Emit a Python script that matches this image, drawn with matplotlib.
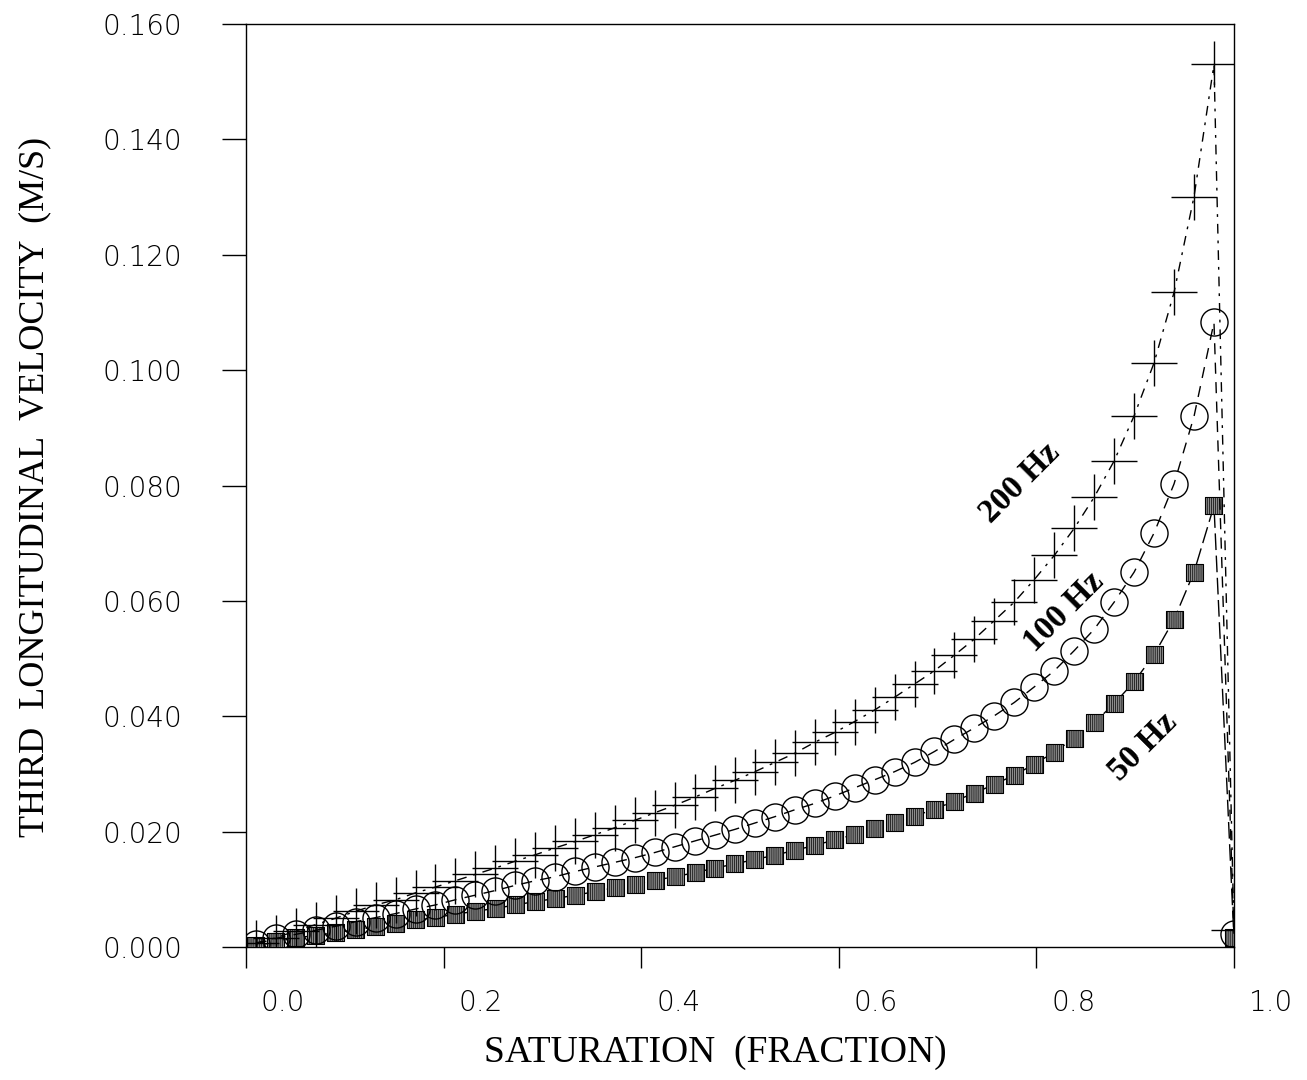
import matplotlib
matplotlib.use('Agg')
import matplotlib.pyplot as plt
import matplotlib.transforms as mtransforms

plt.rcParams['hatch.linewidth'] = 0.5

# saturation grid (50 points, last one at full saturation)
saturation = [0.0100, 0.0302, 0.0504, 0.0706, 0.0908, 0.1110, 0.1312, 0.1514, 0.1716, 0.1918,
              0.2120, 0.2322, 0.2524, 0.2727, 0.2929, 0.3131, 0.3333, 0.3535, 0.3737, 0.3939,
              0.4141, 0.4343, 0.4545, 0.4747, 0.4949, 0.5151, 0.5353, 0.5555, 0.5757, 0.5959,
              0.6161, 0.6363, 0.6565, 0.6767, 0.6969, 0.7171, 0.7373, 0.7575, 0.7777, 0.7979,
              0.8182, 0.8384, 0.8586, 0.8788, 0.8990, 0.9192, 0.9394, 0.9596, 0.9798, 1.0000]

v200 = [0.0007, 0.0016, 0.0028, 0.0039, 0.0050, 0.0062, 0.0073, 0.0082, 0.0094, 0.0104,
        0.0115, 0.0126, 0.0137, 0.0149, 0.0160, 0.0172, 0.0183, 0.0195, 0.0207, 0.0220,
        0.0233, 0.0246, 0.0260, 0.0275, 0.0289, 0.0304, 0.0320, 0.0336, 0.0355, 0.0372,
        0.0391, 0.0411, 0.0433, 0.0456, 0.0479, 0.0506, 0.0534, 0.0566, 0.0598, 0.0637,
        0.0679, 0.0726, 0.0780, 0.0843, 0.0921, 0.1013, 0.1135, 0.1301, 0.1530, 0.0030]

v100 = [0.0005, 0.0015, 0.0022, 0.0029, 0.0036, 0.0044, 0.0051, 0.0058, 0.0066, 0.0073,
        0.0082, 0.0090, 0.0098, 0.0107, 0.0115, 0.0122, 0.0131, 0.0139, 0.0147, 0.0155,
        0.0164, 0.0174, 0.0184, 0.0194, 0.0204, 0.0215, 0.0226, 0.0238, 0.0249, 0.0262,
        0.0276, 0.0290, 0.0304, 0.0320, 0.0339, 0.0360, 0.0380, 0.0401, 0.0424, 0.0451,
        0.0479, 0.0514, 0.0551, 0.0598, 0.0650, 0.0718, 0.0803, 0.0920, 0.1083, 0.0023]

v50 = [0.0002, 0.0009, 0.0016, 0.0020, 0.0025, 0.0030, 0.0035, 0.0041, 0.0047, 0.0051,
       0.0057, 0.0062, 0.0067, 0.0073, 0.0079, 0.0084, 0.0090, 0.0096, 0.0103, 0.0109,
       0.0116, 0.0122, 0.0129, 0.0137, 0.0144, 0.0152, 0.0159, 0.0168, 0.0176, 0.0186,
       0.0195, 0.0205, 0.0216, 0.0227, 0.0239, 0.0253, 0.0267, 0.0282, 0.0298, 0.0317,
       0.0338, 0.0362, 0.0389, 0.0422, 0.0460, 0.0507, 0.0568, 0.0650, 0.0765, 0.0016]

xticks = [0.0, 0.2, 0.4, 0.6, 0.8, 1.0]
xticklabels = ['0.0', '0.2', '0.4', '0.6', '0.8', '1.0']
yticks = [0.0, 0.02, 0.04, 0.06, 0.08, 0.10, 0.12, 0.14, 0.16]

fig = plt.figure(figsize=(13.07, 10.8), dpi=100)
ax = fig.add_axes([0.1882, 0.1231, 0.7559, 0.8546])

# 50 Hz - hatched grey squares
ax.plot(saturation, v50, color='black', lw=1.0, linestyle=(0, (12, 4)), zorder=2)
ax.scatter(saturation, v50, marker='s', s=150, facecolor='#8c8c8c', edgecolor='black',
           linewidth=0.8, hatch='||||||||', zorder=3)

# 100 Hz - open circles
ax.plot(saturation, v100, color='black', lw=1.0, linestyle=(0, (8, 6)),
        marker='o', markersize=19.5, markerfacecolor='none', markeredgecolor='black',
        markeredgewidth=1.0, zorder=4)

# 200 Hz - plus markers
ax.plot(saturation, v200, color='black', lw=1.0, linestyle=(0, (7, 5, 2, 5)),
        marker='+', markersize=33, markeredgewidth=1.0, zorder=5)

ax.set_xlim(0.0, 1.0)
ax.set_ylim(0.0, 0.16)

for s in ax.spines.values():
    s.set_linewidth(1.0)

ax.set_yticks(yticks)
ax.set_yticklabels(['%.3f' % v for v in yticks])
ax.tick_params(axis='y', direction='out', length=17, width=1.0, pad=29, labelsize=20)
ax.set_xticks(xticks)
ax.set_xticklabels([])
ax.tick_params(axis='x', direction='out', length=15, width=1.0)
for lab in ax.get_yticklabels():
    lab.set_fontweight('light')

# x tick labels sit to the right of their tick marks in the original
offset = mtransforms.ScaledTranslation(0.37, -0.56, fig.dpi_scale_trans)
for v, lbl in zip(xticks, xticklabels):
    ax.text(v, 0, lbl, transform=ax.get_xaxis_transform() + offset,
            ha='center', va='center', fontsize=20, fontweight='light')

fig.text(715 / 1307, 1 - 1053 / 1080, 'SATURATION  (FRACTION)', ha='center', va='center',
         fontsize=27, family='Liberation Serif')
fig.text(35 / 1307, 1 - 487 / 1080, 'THIRD  LONGITUDINAL  VELOCITY  (M/S)', ha='center',
         va='center', rotation=90, fontsize=26, family='Liberation Serif')

fig.text(1020 / 1307, 1 - 483 / 1080, '200 Hz', ha='center', va='center', rotation=45,
         fontsize=24, fontweight='bold', family='Liberation Serif')
fig.text(1064 / 1307, 1 - 612 / 1080, '100 Hz', ha='center', va='center', rotation=45,
         fontsize=24, fontweight='bold', family='Liberation Serif')
fig.text(1143 / 1307, 1 - 747 / 1080, '50 Hz', ha='center', va='center', rotation=45,
         fontsize=24, fontweight='bold', family='Liberation Serif')

fig.savefig('out.png', dpi=100)
